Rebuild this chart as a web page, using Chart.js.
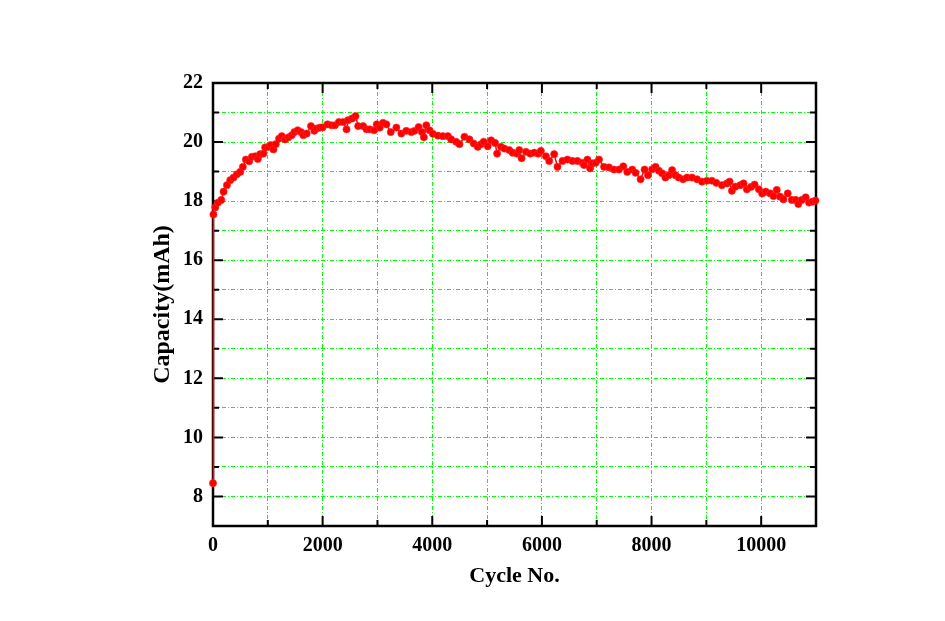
<!DOCTYPE html>
<html>
<head>
<meta charset="utf-8">
<script src="https://cdn.jsdelivr.net/npm/chart.js@4.4.1/dist/chart.umd.min.js"></script>
<style>
  html, body { margin: 0; padding: 0; background: #fff; }
  canvas { display: block; }
</style>
</head>
<body>
<canvas id="cap" width="945" height="621"></canvas>
<script>
// cycle number and capacity
var cycles = [
  0, 8, 42, 91, 151, 193, 254, 315, 375, 436, 497, 545, 600, 660, 709, 769, 818, 860, 920, 951,
  1011, 1054, 1102, 1145, 1205, 1254, 1315, 1375, 1436, 1484, 1545, 1605, 1648, 1709, 1787, 1848, 1890, 1951,
  2000, 2090, 2163, 2224, 2296, 2375, 2436, 2466, 2539, 2600, 2648, 2739, 2800, 2860, 2938, 2987,
  3042, 3102, 3163, 3242, 3345, 3436, 3527, 3618, 3678, 3751, 3811, 3847, 3891, 3951,
  4011, 4102, 4193, 4284, 4345, 4436, 4496, 4587, 4678, 4757, 4830, 4891, 4938,
  5011, 5073, 5145, 5182, 5254, 5315, 5405, 5466, 5545, 5587, 5630, 5709, 5787, 5860, 5933, 5981,
  6073, 6133, 6224, 6284, 6375, 6466, 6557, 6648, 6739, 6769, 6830, 6878, 6920, 6981,
  7042, 7133, 7224, 7315, 7405, 7484, 7557, 7648, 7709, 7800, 7873, 7935,
  8011, 8073, 8133, 8193, 8254, 8315, 8375, 8436, 8496, 8575, 8648, 8739, 8830, 8920,
  9011, 9102, 9182, 9284, 9375, 9424, 9466, 9527, 9618, 9678, 9739, 9815, 9880, 9958,
  10018, 10084, 10164, 10224, 10284, 10345, 10405, 10484, 10557, 10630, 10678, 10739, 10812, 10873, 10933, 10990
];
var capacity = [
  8.45, 17.55, 17.79, 17.95, 18.04, 18.32, 18.54, 18.71, 18.80, 18.91, 18.99, 19.16, 19.41, 19.35, 19.50, 19.52, 19.43, 19.59, 19.61, 19.82,
  19.84, 19.90, 19.75, 19.93, 20.12, 20.20, 20.09, 20.16, 20.23, 20.34, 20.40, 20.34, 20.23, 20.29, 20.54, 20.38, 20.46, 20.49,
  20.50, 20.60, 20.57, 20.57, 20.68, 20.68, 20.43, 20.74, 20.80, 20.88, 20.54, 20.54, 20.43, 20.43, 20.40, 20.60,
  20.49, 20.65, 20.60, 20.34, 20.49, 20.29, 20.38, 20.34, 20.38, 20.51, 20.34, 20.16, 20.57, 20.40,
  20.28, 20.22, 20.20, 20.20, 20.09, 20.01, 19.93, 20.18, 20.09, 19.95, 19.84, 19.93, 20.01,
  19.86, 20.06, 19.97, 19.61, 19.84, 19.78, 19.73, 19.64, 19.61, 19.73, 19.45, 19.67, 19.61, 19.64, 19.61, 19.70,
  19.52, 19.36, 19.59, 19.16, 19.36, 19.41, 19.36, 19.36, 19.30, 19.22, 19.41, 19.11, 19.28, 19.30,
  19.41, 19.16, 19.14, 19.07, 19.07, 19.18, 18.99, 19.07, 18.96, 18.74, 19.07, 18.88,
  19.08, 19.16, 19.03, 18.94, 18.80, 18.88, 19.05, 18.88, 18.80, 18.74, 18.80, 18.80, 18.74, 18.66,
  18.69, 18.69, 18.62, 18.54, 18.60, 18.66, 18.35, 18.49, 18.54, 18.60, 18.40, 18.48, 18.56, 18.40,
  18.26, 18.32, 18.26, 18.17, 18.38, 18.15, 18.06, 18.26, 18.04, 18.04, 17.90, 18.04, 18.13, 17.95, 17.98, 18.02
];

var xMin = 0, xMax = 11000, xStep = 1000;
var yMin = 7, yMax = 22, yStep = 1;

var points = [];
for (var i = 0; i < cycles.length; i++) {
  points.push({ x: cycles[i], y: capacity[i] });
}

var serif = "'Liberation Serif', 'Times New Roman', serif";
var tickFont = { family: serif, size: 20, weight: 'bold' };

function gridColor(c, lo, hi) {
  var v = c.tick ? c.tick.value : null;
  if (v === lo || v === hi) return 'rgba(0,0,0,0)';
  return '#00ff00';
}

// black frame with inward ticks on all four sides
var frameTicks = {
  id: 'frameTicks',
  beforeDatasetsDraw: function (chart) {
    var ctx = chart.ctx, a = chart.chartArea;
    var sx = chart.scales.x, sy = chart.scales.y;
    ctx.save();
    ctx.strokeStyle = '#000';
    ctx.lineWidth = 2;
    ctx.beginPath();
    sx.ticks.forEach(function (t) {
      var px = sx.getPixelForValue(t.value);
      var len = (t.value % 2000 === 0) ? 10 : 6;
      ctx.moveTo(px, a.bottom); ctx.lineTo(px, a.bottom - len);
      ctx.moveTo(px, a.top); ctx.lineTo(px, a.top + len);
    });
    sy.ticks.forEach(function (t) {
      var py = sy.getPixelForValue(t.value);
      var len = (t.value % 2 === 0) ? 10 : 6;
      ctx.moveTo(a.left, py); ctx.lineTo(a.left + len, py);
      ctx.moveTo(a.right, py); ctx.lineTo(a.right - len, py);
    });
    ctx.stroke();
    ctx.lineWidth = 2.5;
    ctx.strokeRect(a.left, a.top, a.right - a.left, a.bottom - a.top);
    ctx.restore();
  }
};

var chart = new Chart(document.getElementById('cap').getContext('2d'), {
  type: 'line',
  data: {
    datasets: [{
      label: 'Capacity',
      data: points,
      clip: 6,
      borderColor: '#ff0000',
      borderWidth: 1.5,
      backgroundColor: '#ff0000',
      pointBackgroundColor: '#ff0000',
      pointBorderColor: 'rgba(255,40,40,0.6)',
      pointBorderWidth: 1,
      pointRadius: 3.6,
      pointHoverRadius: 3.6,
      fill: false,
      tension: 0
    }]
  },
  options: {
    responsive: false,
    animation: false,
    layout: { padding: { left: 148, right: 129, top: 83, bottom: 31 } },
    plugins: {
      legend: { display: false },
      tooltip: { enabled: false }
    },
    scales: {
      x: {
        type: 'linear',
        min: xMin,
        max: xMax,
        afterFit: function (s) { s.height = 64; },
        ticks: {
          stepSize: xStep,
          autoSkip: false,
          maxRotation: 0,
          padding: 8,
          color: '#000',
          font: tickFont,
          callback: function (v) { return (v % 2000 === 0 && v < xMax) ? String(v) : ''; }
        },
        grid: {
          drawTicks: false,
          lineWidth: 1,
          color: function (c) { return gridColor(c, xMin, xMax); }
        },
        border: { display: false, dash: [4, 2, 1, 2] },
        title: {
          display: true,
          text: 'Cycle No.',
          color: '#000',
          font: { family: serif, size: 22, weight: 'bold' },
          padding: 0
        }
      },
      y: {
        type: 'linear',
        min: yMin,
        max: yMax,
        afterFit: function (s) { s.width = 65; },
        ticks: {
          stepSize: yStep,
          autoSkip: false,
          padding: 10,
          color: '#000',
          font: tickFont,
          callback: function (v) { return (v % 2 === 0) ? String(v) : ''; }
        },
        grid: {
          drawTicks: false,
          lineWidth: 1,
          color: function (c) { return gridColor(c, yMin, yMax); }
        },
        border: { display: false, dash: [4, 2, 1, 2] },
        title: {
          display: true,
          text: 'Capacity(mAh)',
          color: '#000',
          font: { family: serif, size: 24, weight: 'bold' },
          padding: 0
        }
      }
    }
  },
  plugins: [frameTicks]
});
</script>
</body>
</html>
